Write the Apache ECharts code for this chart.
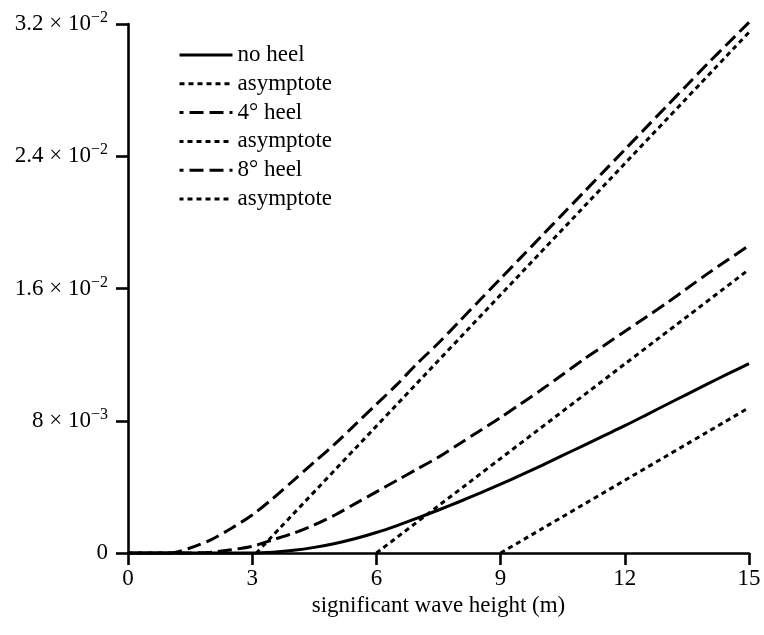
<!DOCTYPE html>
<html>
<head>
<meta charset="utf-8">
<script src="https://cdn.jsdelivr.net/npm/echarts@6/dist/echarts.min.js"></script>
<style>
  html, body { margin: 0; padding: 0; background: #fff; }
  #chart { width: 764px; height: 635px; }
</style>
</head>
<body>
<div id="chart"></div>
<script>
// Wave height samples (m) shared by the three response curves
const waveHeights = [0, 1, 1.5, 2, 2.5, 3, 3.5, 4, 4.5, 5, 5.5, 6, 6.5, 7, 7.5, 8, 8.5, 9, 9.5, 10, 10.5, 11, 11.5, 12, 12.5, 13, 13.5, 14, 14.5, 15];

// Response curves at each heel angle
const noHeel = [0, 0, 0, 0, 0, 0, 0.00005, 0.00016, 0.00034, 0.00058, 0.00088, 0.00124, 0.00166, 0.00212, 0.0026, 0.0031, 0.00362, 0.00416, 0.00472, 0.0053, 0.0059, 0.0065, 0.0071, 0.0077, 0.00833, 0.00897, 0.0096, 0.01023, 0.01085, 0.01145];
const heel4 = [0, 0, 0, 0.00005, 0.0002, 0.0004, 0.0008, 0.0012, 0.0017, 0.0023, 0.0030, 0.0037, 0.0044, 0.0051, 0.0058, 0.0066, 0.0074, 0.0082, 0.00905, 0.0099, 0.0108, 0.0117, 0.01255, 0.0134, 0.01425, 0.0151, 0.0160, 0.0169, 0.01775, 0.0186];
const heel8 = [0, 0, 0.0003, 0.0008, 0.0015, 0.0023, 0.0033, 0.0044, 0.0055, 0.0066, 0.0078, 0.0090, 0.0102, 0.0115, 0.0127, 0.0140, 0.0153, 0.0166, 0.0179, 0.0192, 0.0205, 0.0218, 0.0231, 0.0244, 0.0257, 0.0270, 0.0283, 0.0296, 0.03085, 0.0321];

// Straight-line asymptotes: [start height, end height] and [start value, end value]
const noHeelAsymX = [9, 15];
const noHeelAsymY = [0, 0.00879];
const heel4AsymX = [6, 15];
const heel4AsymY = [0, 0.01715];
const heel8AsymX = [3.1, 15];
const heel8AsymY = [0, 0.0315];

// Axis tick labels
const xTicks = [0, 3, 6, 9, 12, 15];
const yTickMantissa = ['0', '8 × 10', '1.6 × 10', '2.4 × 10', '3.2 × 10'];
const yTickExponent = ['', '−3', '−2', '−2', '−2'];

const legendNames = ['no heel', 'asymptote', '4° heel', 'asymptote', '8° heel', 'asymptote'];

const pair = (xs, ys) => xs.map((x, i) => [x, ys[i]]);

const FONT = 'Liberation Serif';
const LW = 3;
const solid = { color: '#000', width: LW, type: 'solid' };
const longDash = { color: '#000', width: LW, type: [14, 6], cap: 'butt' };
const shortDash = { color: '#000', width: LW, type: [5, 4], cap: 'butt' };

function lineSeries(id, data, style, z) {
  return {
    name: id,
    type: 'line',
    data: data,
    showSymbol: false,
    symbol: 'none',
    smooth: 0.3,
    clip: false,
    lineStyle: style,
    itemStyle: { color: '#000' },
    z: z,
    animation: false
  };
}

const series = [
  lineSeries('s0', pair(waveHeights, noHeel), solid, 3),
  lineSeries('s1', pair(noHeelAsymX, noHeelAsymY), shortDash, 2),
  lineSeries('s2', pair(waveHeights, heel4), Object.assign({}, longDash, { dashOffset: 10 }), 3),
  lineSeries('s3', pair(heel4AsymX, heel4AsymY), shortDash, 2),
  lineSeries('s4', pair(waveHeights, heel8), longDash, 3),
  lineSeries('s5', pair(heel8AsymX, heel8AsymY), shortDash, 2)
];

const chart = echarts.init(document.getElementById('chart'), null, { renderer: 'canvas' });
chart.setOption({
  backgroundColor: '#fff',
  animation: false,
  grid: { left: 128, right: 15, top: 24, bottom: 82, containLabel: false },
  legend: {
    orient: 'vertical',
    left: 173,
    top: 38,
    itemWidth: 53,
    itemHeight: 14,
    itemGap: 4.8,
    data: series.map(s => s.name),
    formatter: name => legendNames[Number(name.slice(1))],
    itemStyle: { opacity: 0 },
    lineStyle: { width: LW },
    textStyle: { fontFamily: FONT, fontSize: 23, lineHeight: 24, color: '#000', padding: [0, 0, 0, 0] },
    selectedMode: false
  },
  xAxis: {
    type: 'value',
    min: 0,
    max: 15,
    interval: 3,
    name: 'significant wave height (m)',
    nameLocation: 'middle',
    nameGap: 40,
    nameTextStyle: { fontFamily: FONT, fontSize: 23, color: '#000' },
    axisLine: { show: true, onZero: false, lineStyle: { color: '#000', width: 2.6 } },
    axisTick: { show: true, inside: false, length: 12, lineStyle: { color: '#000', width: 2.6 } },
    axisLabel: {
      fontFamily: FONT, fontSize: 23, color: '#000', margin: 14,
      formatter: v => (xTicks.indexOf(v) >= 0 ? String(v) : '')
    },
    splitLine: { show: false }
  },
  yAxis: {
    type: 'value',
    min: 0,
    max: 0.032,
    interval: 0.008,
    axisLine: { show: true, onZero: false, lineStyle: { color: '#000', width: 2.6 } },
    axisTick: { show: true, inside: false, length: 12, lineStyle: { color: '#000', width: 2.6 } },
    axisLabel: {
      margin: 20,
      formatter: (v) => {
        const idx = Math.round(v / 0.008);
        const e = yTickExponent[idx];
        return '{m|' + yTickMantissa[idx] + '}' + (e ? '{e|' + e + '}' : '');
      },
      rich: {
        m: { fontFamily: FONT, fontSize: 23, color: '#000' },
        e: { fontFamily: FONT, fontSize: 16, color: '#000', verticalAlign: 'top', padding: [0, 0, 12, 0] }
      }
    },
    splitLine: { show: false }
  },
  series: series
});
</script>
</body>
</html>
